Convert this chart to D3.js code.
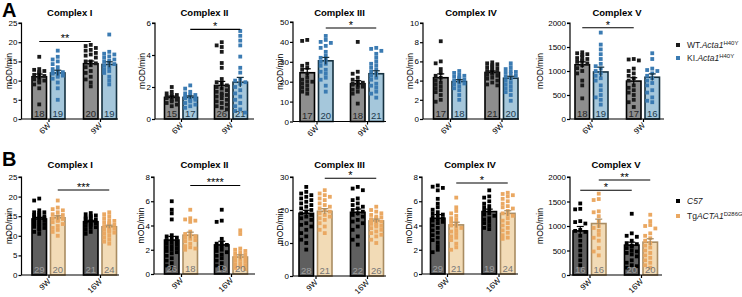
<!DOCTYPE html>
<html><head><meta charset="utf-8">
<script src="https://cdn.jsdelivr.net/npm/d3@7"></script>
<style>body{margin:0;background:#fff} text{font-family:"Liberation Sans",Arial,sans-serif}</style>
</head><body><svg id="c" width="742" height="297"></svg>
<script>
// ---------------- DATA ----------------
const complexes = ["Complex I", "Complex II", "Complex III", "Complex IV", "Complex V"];
const groupsA = ["6W", "9W"];
const groupsB = ["9W", "16W"];
const seriesA = ["WT.Acta1 H40Y", "KI.Acta1 H40Y"];
const seriesB = ["C57", "TgACTA1 D286G"];
const yMaxA = [25, 6, 50, 10, 2000];
const yStepA = [5, 2, 10, 2, 500];
const yMaxB = [25, 8, 30, 8, 2000];
const yStepB = [5, 2, 10, 2, 500];

// bar order per panel: [g1 s1, g1 s2, g2 s1, g2 s2]
const meansA = [[11.0, 12.0, 14.4, 14.2], [1.35, 1.35, 2.1, 2.3], [24.5, 30.5, 19.0, 24.0], [4.3, 3.9, 4.85, 4.25], [1130, 980, 790, 870]];
const semA   = [[0.7, 0.7, 0.7, 0.7], [0.08, 0.09, 0.25, 0.3], [2.0, 1.7, 1.5, 1.5], [0.4, 0.2, 0.15, 0.2], [60, 100, 70, 70]];
const nA     = [[18, 19, 20, 19], [15, 17, 26, 21], [17, 20, 18, 21], [17, 18, 21, 20], [18, 19, 17, 16]];
const meansB = [[14.3, 14.6, 13.6, 12.3], [2.8, 3.2, 2.4, 1.4], [19.0, 19.6, 19.3, 16.7], [4.6, 4.05, 5.15, 5.0], [900, 1050, 610, 670]];
const semB   = [[0.4, 0.5, 0.35, 0.4], [0.3, 0.25, 0.3, 0.18], [0.9, 0.8, 1.0, 0.55], [0.3, 0.22, 0.2, 0.22], [90, 90, 60, 70]];
const nB     = [[29, 20, 21, 24], [26, 18, 19, 20], [28, 21, 22, 26], [29, 21, 19, 24], [16, 16, 20, 20]];

const ptsA1 = [
  [16.2, 13.0, 12.8, 12.5, 12.2, 12.0, 11.5, 11.2, 11.0, 10.8, 10.5, 10.3, 10.0, 10.0, 9.5, 9.0, 8.0, 3.8],
  [17.8, 16.2, 15.5, 15.0, 14.3, 13.5, 13.0, 12.5, 12.2, 12.0, 11.8, 11.5, 11.3, 11.0, 10.5, 9.5, 8.0, 5.0, 12.0],
  [19.3, 19.0, 18.5, 18.0, 17.8, 17.2, 16.8, 16.5, 16.0, 15.0, 14.5, 14.0, 13.5, 12.5, 12.0, 11.0, 10.3, 9.5, 8.5, 15.0],
  [22.0, 17.5, 17.0, 16.8, 16.3, 16.0, 15.5, 15.2, 15.0, 14.7, 14.3, 14.0, 13.5, 13.0, 12.5, 12.0, 11.0, 10.0, 9.0]];
const ptsA2 = [
  [2.0, 1.7, 1.6, 1.5, 1.5, 1.4, 1.4, 1.3, 1.3, 1.2, 1.2, 1.1, 1.0, 0.9, 0.8],
  [2.1, 1.9, 1.7, 1.6, 1.5, 1.5, 1.4, 1.4, 1.3, 1.3, 1.2, 1.2, 1.1, 1.0, 0.9, 0.8, 0.7],
  [4.8, 4.6, 4.5, 4.2, 3.5, 3.2, 2.5, 2.3, 2.2, 2.0, 1.9, 1.8, 1.7, 1.6, 1.5, 1.4, 1.3, 1.2, 1.1, 1.0, 0.9, 0.8, 0.7, 0.6, 1.5, 2.1],
  [5.5, 5.2, 4.9, 4.6, 3.9, 3.2, 2.9, 2.5, 2.4, 2.3, 2.2, 2.0, 1.8, 1.6, 1.4, 1.2, 1.0, 0.8, 0.6, 0.5, 0.4]];
const ptsA3 = [
  [41, 40.5, 29, 28, 27, 26, 24, 22, 21, 20, 20, 19, 18, 17, 16, 15, 14],
  [43, 41, 40, 39.5, 38, 37, 35, 33, 32, 31, 30, 29, 28, 26, 25, 24, 22, 21, 18, 15],
  [40, 25, 24, 22, 21, 20, 19.5, 19, 19, 18.5, 18, 18, 17.5, 17, 16, 15, 14, 9],
  [37, 36.5, 35.5, 34, 32, 30, 29, 28, 27, 26, 25, 24, 23, 22, 21, 19, 18, 17, 15, 14, 12]];
const ptsA4 = [
  [8.1, 6.0, 5.8, 5.2, 4.8, 4.5, 4.3, 4.0, 3.8, 3.6, 3.4, 3.2, 3.0, 2.8, 2.5, 2.0, 1.8],
  [5.0, 4.8, 4.6, 4.5, 4.4, 4.3, 4.2, 4.1, 4.0, 3.9, 3.8, 3.7, 3.6, 3.4, 3.2, 3.0, 2.5, 2.0],
  [5.9, 5.8, 5.7, 5.6, 5.5, 5.4, 5.3, 5.2, 5.1, 5.0, 4.9, 4.8, 4.7, 4.6, 4.5, 4.3, 4.2, 4.0, 3.8, 3.6, 3.5],
  [5.8, 5.4, 5.2, 5.0, 4.9, 4.8, 4.7, 4.5, 4.4, 4.3, 4.2, 4.0, 3.8, 3.6, 3.4, 3.2, 3.0, 2.8, 2.5, 1.9]];
const ptsA5 = [
  [1390, 1370, 1350, 1330, 1300, 1270, 1250, 1230, 1210, 1190, 1160, 1120, 1060, 1000, 950, 800, 700, 430],
  [1800, 1550, 1450, 1350, 1250, 1150, 1100, 1050, 1000, 950, 900, 850, 800, 700, 600, 500, 450, 400, 300],
  [1250, 1240, 1220, 1050, 1000, 950, 900, 850, 800, 700, 650, 600, 550, 500, 400, 350, 250],
  [1370, 1250, 1050, 1020, 1000, 950, 900, 850, 800, 750, 700, 600, 550, 450, 380, 350]];
const ptsB1 = [
  [19.5, 19.0, 16.5, 16.0, 16.0, 15.8, 15.5, 15.3, 15.0, 15.0, 14.8, 14.6, 14.5, 14.3, 14.0, 14.0, 13.8, 13.5, 13.3, 13.0, 13.0, 12.8, 12.5, 12.3, 12.0, 11.8, 11.5, 11.0, 10.5],
  [19.0, 17.2, 16.8, 16.5, 16.0, 15.5, 15.3, 15.0, 14.8, 14.5, 14.3, 14.0, 13.8, 13.5, 13.0, 12.5, 12.0, 11.5, 11.0, 10.0],
  [15.8, 15.5, 15.2, 15.0, 14.8, 14.6, 14.4, 14.2, 14.0, 13.8, 13.6, 13.4, 13.2, 13.0, 12.8, 12.5, 12.2, 12.0, 11.5, 11.0, 10.5],
  [16.0, 15.5, 15.0, 14.5, 14.0, 13.8, 13.5, 13.2, 13.0, 12.8, 12.5, 12.3, 12.0, 11.8, 11.5, 11.3, 11.0, 10.8, 10.5, 10.0, 9.5, 9.0, 8.5, 8.0]];
const ptsB2 = [
  [6.0, 5.3, 5.0, 4.5, 3.2, 3.1, 3.0, 2.9, 2.8, 2.7, 2.6, 2.5, 2.4, 2.3, 2.2, 2.1, 2.0, 1.9, 1.8, 1.7, 1.5, 1.3, 1.1, 0.9, 0.7, 0.5],
  [5.3, 4.6, 4.5, 4.4, 4.3, 3.5, 3.3, 3.2, 3.1, 3.0, 2.9, 2.8, 2.7, 2.5, 2.3, 2.2, 2.1, 2.0],
  [5.3, 4.4, 4.3, 2.9, 2.6, 2.5, 2.4, 2.3, 2.2, 2.0, 1.9, 1.8, 1.6, 1.5, 1.3, 1.1, 0.9, 0.7, 0.5],
  [3.6, 3.3, 2.1, 2.0, 1.9, 1.8, 1.7, 1.6, 1.5, 1.4, 1.3, 1.2, 1.1, 1.0, 0.9, 0.8, 0.7, 0.6, 0.5, 0.4]];
const ptsB3 = [
  [27, 25.5, 25, 24.5, 24, 23.5, 23, 22.5, 22, 21.5, 21, 20.5, 20, 19.5, 19, 18.5, 18, 17.5, 17, 16, 15.5, 15, 14, 13, 12, 11, 10, 8],
  [26, 25, 24.5, 24, 23.5, 23, 22, 21.5, 21, 20.5, 20, 19.5, 19, 18.5, 18, 17.5, 17, 16, 15, 14, 13],
  [27, 26.5, 26, 23.5, 23, 22, 21.5, 21, 20.5, 20, 19.5, 19, 18.5, 18, 17, 16.5, 16, 15, 14, 12, 11, 9.5],
  [21, 20, 19.5, 19, 18.5, 18, 17.8, 17.5, 17.2, 17, 16.8, 16.5, 16.3, 16, 15.8, 15.5, 15.2, 15, 14.5, 14, 13.5, 13, 12.5, 12, 11, 10]];
const ptsB4 = [
  [7.3, 7.2, 7.1, 6.9, 6.2, 5.8, 5.5, 5.3, 5.1, 5.0, 4.9, 4.8, 4.7, 4.6, 4.5, 4.4, 4.3, 4.2, 4.0, 3.8, 3.6, 3.4, 3.2, 3.0, 2.8, 2.6, 2.3, 2.0, 1.8],
  [6.3, 5.5, 5.2, 5.0, 4.8, 4.6, 4.5, 4.3, 4.2, 4.0, 3.9, 3.8, 3.6, 3.5, 3.3, 3.1, 3.0, 2.8, 2.5, 2.2, 2.0],
  [6.9, 6.4, 6.3, 6.0, 5.8, 5.6, 5.5, 5.3, 5.2, 5.0, 4.9, 4.8, 4.6, 4.5, 4.3, 4.2, 4.0, 3.8, 3.7],
  [6.7, 6.6, 6.5, 6.4, 6.2, 6.0, 5.8, 5.6, 5.5, 5.4, 5.2, 5.0, 4.9, 4.8, 4.6, 4.4, 4.2, 4.0, 3.8, 3.6, 3.4, 3.2, 3.0, 2.9]];
const ptsB5 = [
  [1460, 1350, 1340, 1100, 1080, 1050, 920, 900, 880, 800, 700, 600, 500, 400, 300, 200],
  [1660, 1550, 1530, 1300, 1280, 1200, 1100, 1000, 960, 900, 820, 760, 700, 550, 480, 400],
  [1250, 850, 800, 780, 700, 650, 630, 600, 580, 550, 500, 480, 450, 420, 380, 300, 250, 200, 180, 150],
  [1230, 1100, 1020, 1000, 950, 850, 800, 750, 700, 650, 600, 560, 500, 450, 400, 350, 300, 250, 200, 150]];
const ptsA = [ptsA1, ptsA2, ptsA3, ptsA4, ptsA5];
const ptsB = [ptsB1, ptsB2, ptsB3, ptsB4, ptsB5];

// significance: bar index a to bar index b at value level v
const sigA = [[{a: 0, b: 2, v: 20.2, t: "**"}], [{a: 1, b: 3, v: 5.6, t: "*"}], [{a: 1, b: 3, v: 47, t: "*"}], [], [{a: 0, b: 2, v: 1900, t: "*"}]];
const sigB = [[{a: 1, b: 3, v: 21.7, t: "***"}], [{a: 1, b: 3, v: 7.3, t: "****"}], [{a: 1, b: 3, v: 29.6, t: "*"}], [{a: 1, b: 3, v: 7.5, t: "*"}], [{a: 0, b: 2, v: 1730, t: "*"}, {a: 1, b: 3, v: 1940, t: "**"}]];

// ---------------- LAYOUT / STYLE ----------------
const layoutA = [
  {ax: 21.5, g1: 48.5, g2: 100, end: 118, top: 23, bot: 119, yl: 11.5},
  {ax: 155, g1: 181, g2: 231, end: 254, top: 23, bot: 119, yl: 145},
  {ax: 293, g1: 316.5, g2: 367, end: 386, top: 22, bot: 121.5, yl: 283},
  {ax: 423, g1: 450, g2: 501.5, end: 519, top: 23, bot: 119, yl: 413},
  {ax: 570, g1: 591.5, g2: 643, end: 664, top: 23, bot: 119, yl: 543}];
const layoutB = [
  {ax: 21.5, g1: 48.5, g2: 100, end: 119, top: 177, bot: 275, yl: 11.5},
  {ax: 154, g1: 181, g2: 231, end: 255, top: 177, bot: 274, yl: 144},
  {ax: 293, g1: 315.5, g2: 367, end: 386, top: 177, bot: 276, yl: 283},
  {ax: 422, g1: 447, g2: 498.5, end: 518, top: 177, bot: 274, yl: 412},
  {ax: 570, g1: 589.5, g2: 641, end: 662, top: 177, bot: 275, yl: 543}];
const styleA = [
  {fill: "#8e8e8e", stroke: "#000", pt: "#1a1a1a", lab: "#262626"},
  {fill: "#a5c7db", stroke: "#14303f", pt: "#3b7bb2", lab: "#1d3a4d"}];
const styleB = [
  {fill: "#5f5f5f", stroke: "#000", pt: "#000", lab: "#a0a0a0"},
  {fill: "#f2dbb6", stroke: "#a98c62", pt: "#eaa862", lab: "#777"}];
const FONT = '"Liberation Sans",Arial,sans-serif';

const svg = d3.select("#c");

function panel(i, L, groups, yMax, yStep, means, sems, ns, pts, sigs, S, titleY) {
  const g = svg.append("g");
  const y = d3.scaleLinear().domain([0, yMax]).range([L.bot, L.top]);
  const xg = d3.scalePoint().domain(groups).range([L.g1, L.g2]);
  const xs = d3.scaleBand().domain([0, 1]).range([-16.5, 16.5]).paddingInner(0.216);
  const bw = xs.bandwidth();
  const barX = k => xg(groups[k >> 1]) + xs(k & 1);

  g.append("text").attr("x", (L.ax + L.end) / 2).attr("y", titleY).attr("text-anchor", "middle")
    .attr("font-size", 9.5).attr("font-weight", "bold").text(complexes[i]);
  g.append("text").attr("transform", `translate(${L.yl},${(L.top + L.bot) / 2}) rotate(-90)`)
    .attr("text-anchor", "middle").attr("font-size", 8.5).text("mOD/min");

  for (let k = 0; k < 4; k++) {
    const s = S[k & 1];
    g.append("rect").attr("x", barX(k)).attr("y", y(means[k])).attr("width", bw)
      .attr("height", y(0) - y(means[k])).attr("fill", s.fill).attr("stroke", s.stroke).attr("stroke-width", 1.6);
  }
  const sz = 3.8;
  for (let k = 0; k < 4; k++) {
    const s = S[k & 1];
    const cx = barX(k) + bw / 2;
    const vals = pts[k].slice().sort((a, b) => b - a);
    const placed = [];
    const cands = [0, -3.4, 3.4, -1.7, 1.7, -5.1, 5.1, -6.2, 6.2];
    vals.forEach(v => {
      const py = y(v);
      let best = cands[0], bestC = 1e9;
      for (const c of cands) {
        let conf = 0;
        for (const p of placed) if (Math.abs(p.x - c) < 3.5 && Math.abs(p.y - py) < 3.5) conf++;
        if (conf < bestC) { bestC = conf; best = c; }
        if (conf === 0) break;
      }
      placed.push({x: best, y: py});
      g.append("rect").attr("x", cx + best - sz / 2).attr("y", py - sz / 2).attr("width", sz).attr("height", sz).attr("fill", s.pt);
    });
  }
  for (let k = 0; k < 4; k++) {
    const s = S[k & 1];
    const cx = barX(k) + bw / 2;
    const top = y(means[k] + sems[k]), bo = y(means[k] - sems[k]);
    g.append("line").attr("x1", cx).attr("x2", cx).attr("y1", top).attr("y2", bo).attr("stroke", s.stroke).attr("stroke-width", 1.2);
    g.append("line").attr("x1", cx - 3.5).attr("x2", cx + 3.5).attr("y1", top).attr("y2", top).attr("stroke", s.stroke).attr("stroke-width", 1.2);
  }
  for (let k = 0; k < 4; k++) {
    const s = S[k & 1];
    g.append("text").attr("x", barX(k) + bw / 2).attr("y", y(0) - 2.5).attr("text-anchor", "middle")
      .attr("font-size", 9.5).attr("fill", s.lab).text(ns[k]);
  }
  const yAxis = d3.axisLeft(y).tickValues(d3.range(0, yMax + 1e-9, yStep)).tickSize(3).tickPadding(1).tickFormat(d3.format("d"));
  const ya = g.append("g").attr("transform", `translate(${L.ax},0)`).call(yAxis);
  ya.select(".domain").attr("d", `M-3,${L.top}H0V${L.bot}`).attr("stroke-width", 1.2);
  ya.selectAll(".tick line").attr("stroke-width", 1.2);
  ya.selectAll("text").attr("font-size", 8).attr("font-family", FONT).attr("fill", "#000");

  const xAxis = d3.axisBottom(xg).tickSize(3).tickSizeOuter(0);
  const xa = g.append("g").attr("transform", `translate(0,${L.bot})`).call(xAxis);
  xa.select(".domain").attr("d", `M${L.ax},0H${L.end}`).attr("stroke-width", 1.2);
  xa.selectAll(".tick line").attr("stroke-width", 1.2);
  xa.selectAll("text").attr("font-size", 8).attr("font-family", FONT).attr("fill", "#000")
    .attr("text-anchor", "end").attr("dy", null).attr("y", 0)
    .attr("transform", "translate(2,7) rotate(-45)");

  sigs.forEach(sg => {
    const x1 = barX(sg.a) + bw / 2, x2 = barX(sg.b) + bw / 2, yy = y(sg.v);
    g.append("line").attr("x1", x1).attr("x2", x2).attr("y1", yy).attr("y2", yy).attr("stroke", "#000").attr("stroke-width", 1.1);
    g.append("text").attr("x", (x1 + x2) / 2).attr("y", yy + 1).attr("text-anchor", "middle").attr("font-size", 11).attr("fill", "#000").text(sg.t);
  });
}

for (let i = 0; i < 5; i++) {
  panel(i, layoutA[i], groupsA, yMaxA[i], yStepA[i], meansA[i], semA[i], nA[i], ptsA[i], sigA[i], styleA, 16);
  panel(i, layoutB[i], groupsB, yMaxB[i], yStepB[i], meansB[i], semB[i], nB[i], ptsB[i], sigB[i], styleB, 168);
}

svg.append("text").attr("x", 2).attr("y", 17).attr("font-size", 20).attr("font-weight", "bold").text("A");
svg.append("text").attr("x", 2).attr("y", 166).attr("font-size", 20).attr("font-weight", "bold").text("B");

function legend(items, colors, y0, dy) {
  items.forEach((it, j) => {
    const yy = y0 + j * dy;
    svg.append("rect").attr("x", 676).attr("y", yy - 2).attr("width", 4).attr("height", 4).attr("fill", colors[j]);
    const t = svg.append("text").attr("x", 687).attr("y", yy + 3).attr("font-size", 8.5).attr("fill", "#222");
    it.forEach(p => {
      const ts = t.append("tspan").text(p.s);
      if (p.i) ts.attr("font-style", "italic");
      if (p.sup) ts.attr("font-size", 6).attr("dy", -3.5);
    });
  });
}
legend([[{s: "WT."}, {s: "Acta1", i: 1}, {s: "H40Y", sup: 1}], [{s: "KI."}, {s: "Acta1", i: 1}, {s: "H40Y", sup: 1}]],
  [styleA[0].pt, styleA[1].pt], 45, 13);
legend([[{s: "C57", i: 1}], [{s: "Tg"}, {s: "ACTA1", i: 1}, {s: "D286G", sup: 1}]],
  [styleB[0].pt, styleB[1].pt], 201, 15);
</script></body></html>
